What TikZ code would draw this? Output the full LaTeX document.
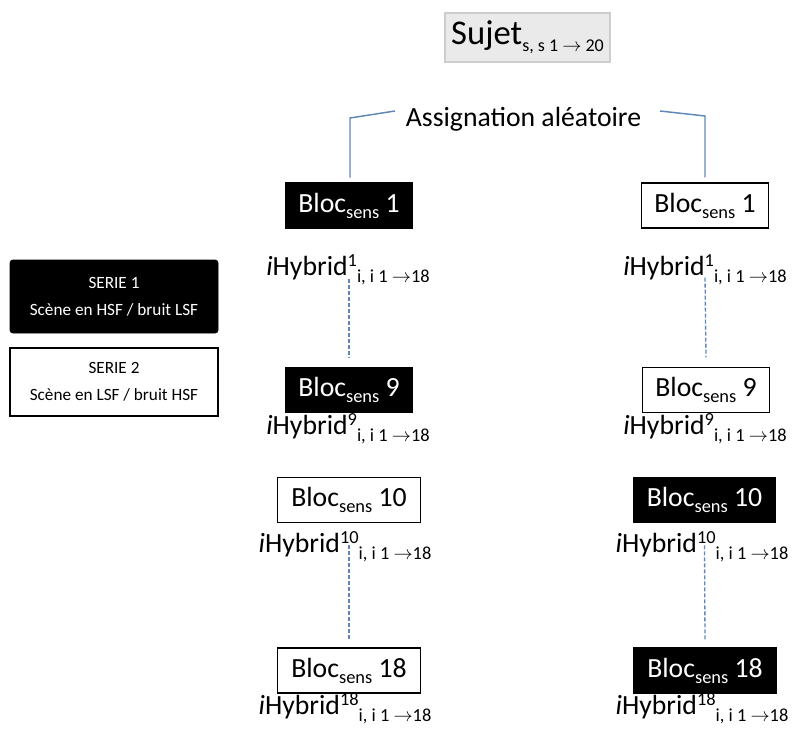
\documentclass[tikz,border=0pt]{standalone}
\usepackage{fontspec}
\setmainfont{Carlito}
\definecolor{linkblue}{RGB}{95,135,185}
\definecolor{sujfill}{RGB}{234,234,234}
\definecolor{sujdraw}{RGB}{205,205,205}
\newcommand\mainsize{\fontsize{20.8}{24}\selectfont}
\newcommand\subsz[1]{\raisebox{-0.26em}{\fontsize{13.8}{15}\selectfont #1}}
\newcommand\supsz[1]{\raisebox{0.3em}{\fontsize{13.8}{15}\selectfont #1}}
\newcommand\arr{\ensuremath{\rightarrow}}
\newcommand\hyb[1]{\textit{i}Hybrid\supsz{#1}\subsz{i, i 1 \arr18}}
\newcommand\bloc[1]{Bloc\raisebox{-0.22em}{\fontsize{13.8}{15}\selectfont sens} #1}
\begin{document}
\begin{tikzpicture}[x=0.75pt,y=-0.75pt,
  blkbox/.style={draw=black, fill=black, text=white, line width=0.8pt, minimum height=34pt, inner sep=0pt, font=\mainsize},
  whtbox/.style={draw=black, fill=white, text=black, line width=1.1pt, minimum height=34pt, inner sep=0pt, font=\mainsize},
  narrow/.style={minimum width=95pt},
  wide/.style={minimum width=107pt},
  hlabel/.style={anchor=base, inner sep=0pt, font=\mainsize},
  dashlink/.style={draw=linkblue, line width=1pt, dash pattern=on 3pt off 1.5pt},
  bracket/.style={draw=linkblue, line width=1.1pt},
  legend/.style={minimum width=156pt, align=center, inner sep=0pt, font=\fontsize{12.9}{20}\selectfont}
]
\useasboundingbox (0,0) rectangle (795,735);

% top
\node[draw=sujdraw, fill=sujfill, line width=2pt, minimum width=123.75pt, minimum height=36.75pt, inner sep=0pt, font=\fontsize{26}{28}\selectfont] (suj) at (527.5,37.5) {Sujet\raisebox{-0.2em}{\fontsize{13.5}{16}\selectfont s, s 1 \arr{} 20}};
\node[anchor=base, inner sep=2pt, font=\mainsize] (assign) at (523.5,126) {Assignation aléatoire};

% blocks
\node[blkbox, narrow] (L1) at (349,205.5) {\bloc{1}};
\node[whtbox, narrow] (R1) at (705,205.5) {\bloc{1}};
\node[blkbox, narrow] (L9) at (349,390) {\bloc{9}};
\node[whtbox, narrow] (R9) at (706,390) {\bloc{9}};
\node[whtbox, wide] (L10) at (349,500) {\bloc{10}};
\node[blkbox, wide] (R10) at (704.5,500) {\bloc{10}};
\node[whtbox, wide] (L18) at (349,670.5) {\bloc{18}};
\node[blkbox, wide] (R18) at (705,670.5) {\bloc{18}};

% labels
\node[hlabel] (hl1) at (348,275) {\hyb{1}};
\node[hlabel] (hr1) at (705,275) {\hyb{1}};
\node[hlabel] (hl9) at (348,434) {\hyb{9}};
\node[hlabel] (hr9) at (705,434) {\hyb{9}};
\node[hlabel] (hl10) at (345,552) {\hyb{10}};
\node[hlabel] (hr10) at (702,552) {\hyb{10}};
\node[hlabel] (hl18) at (345,714) {\hyb{18}};
\node[hlabel] (hr18) at (702,714) {\hyb{18}};

% legend
\node[legend, fill=black, text=white, draw=black, rounded corners=2pt, minimum height=54.75pt] (s1) at (114,296.5) {SERIE 1\\Scène en HSF / bruit LSF};
\node[legend, fill=white, draw=black, line width=2.2pt, minimum height=51pt] (s2) at (114,382) {SERIE 2\\Scène en LSF / bruit HSF};

% bracket
\coordinate (bl0) at (395,111);
\coordinate (bl1) at (350,118);
\coordinate (br0) at (660,111);
\coordinate (br1) at (705,116);
\draw[bracket, shorten >=3.5pt] (bl0) -- (bl1) -- (bl1 |- L1.north);
\draw[bracket, shorten >=3.5pt] (br0) -- (br1) -- (br1 |- R1.north);

% dashed links
\draw[dashlink] ([yshift=-3pt]hl1.base -| L1.south) -- ([yshift=7pt]L9.north);
\draw[dashlink] ([yshift=-2pt]hr1.base -| R1.south) -- ([yshift=7pt]R9.north);
\draw[dashlink] ([yshift=5pt]hl10.base -| L10.south) -- ([yshift=5pt]L18.north);
\draw[dashlink] ([yshift=5pt]hr10.base -| R10.south) -- ([yshift=5pt]R18.north);
\end{tikzpicture}
\end{document}
